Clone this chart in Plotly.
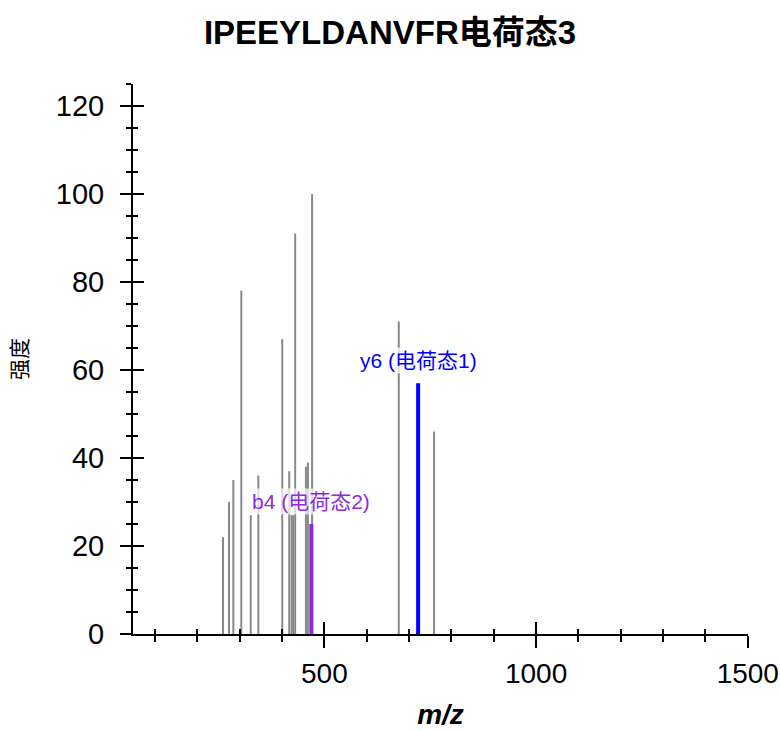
import plotly.graph_objects as go

# ---- data ----
gray_mz = [260.6, 274.8, 285.0, 303.8, 326.0, 344.0, 400.5, 417.0, 422.6, 426.4,
           431.0, 456.4, 461.0, 471.0, 675.7, 759.0]
gray_int = [22, 30, 35, 78, 27, 36, 67, 37, 27, 27,
            91, 38, 39, 100, 71, 46]

ion_labels = ["b4 (电荷态2)", "y6 (电荷态1)"]
ion_mz = [469.2, 721.4]
ion_int = [25, 57]
ion_colors = ["#8A2BE2", "#0000FF"]

title_text = "IPEEYLDANVFR电荷态3"
x_title = "<i>m/z</i>"
y_title = "强度"

x_range = [48, 1500.5]
y_range = [0, 125]

x_major = [500, 1000, 1500]
x_major_text = ["500", "1000", "1500"]
x_minor = [100, 200, 300, 400, 600, 700, 800, 900, 1100, 1200, 1300, 1400]

FONT = "Liberation Sans, Arial, Noto Sans CJK SC, sans-serif"


def sticks(mz, inten):
    xs, ys = [], []
    for m, h in zip(mz, inten):
        xs += [m, m, None]
        ys += [0, h, None]
    return xs, ys


fig = go.Figure()

gx, gy = sticks(gray_mz, gray_int)
fig.add_trace(go.Scatter(x=gx, y=gy, mode="lines",
                         line=dict(color="#888888", width=2),
                         hoverinfo="skip", showlegend=False))

for lab, m, h, c in zip(ion_labels, ion_mz, ion_int, ion_colors):
    sx, sy = sticks([m], [h])
    fig.add_trace(go.Scatter(x=sx, y=sy, mode="lines",
                             line=dict(color=c, width=4),
                             hoverinfo="skip", showlegend=False))
    fig.add_annotation(x=m, y=h, text=lab, showarrow=False,
                       xanchor="center", yanchor="bottom", yshift=9,
                       font=dict(family=FONT, size=21, color=c),
                       bgcolor="rgba(255,255,255,0.7)", borderpad=1)

# dummy trace for overlay axes
fig.add_trace(go.Scatter(x=[None], y=[None], xaxis="x2", yaxis="y2",
                         showlegend=False, hoverinfo="skip"))

common = dict(showgrid=False, zeroline=False, tickcolor="black",
              tickwidth=2)

fig.update_layout(
    width=780, height=730,
    margin=dict(l=133, r=32, t=84, b=96),
    paper_bgcolor="white", plot_bgcolor="white",
    font=dict(family=FONT, color="black"),
    title=dict(text="<b>" + title_text + "</b>", x=0.5, xref="container",
               y=1 - 32 / 730, yref="container", yanchor="middle",
               xanchor="center", font=dict(size=33, family=FONT)),
    xaxis=dict(range=x_range, showline=True, linecolor="black", linewidth=2,
               ticks="outside", ticklen=12, tickvals=x_major,
               ticktext=x_major_text,
               minor=dict(tickvals=x_minor,
                          ticks="outside", ticklen=6, tickwidth=2,
                          tickcolor="black"),
               tickfont=dict(size=28), ticklabelstandoff=1,
               title=dict(text="<b>" + x_title + "</b>", font=dict(size=28),
                          standoff=29),
               automargin=False, **common),
    xaxis2=dict(range=x_range, overlaying="x", anchor="y", side="bottom",
                showline=False, ticks="inside", ticklen=12,
                tickvals=x_major, showticklabels=False,
                minor=dict(tickvals=x_minor,
                           ticks="inside", ticklen=5, tickwidth=2,
                           tickcolor="black"),
                automargin=False, **common),
    yaxis=dict(range=y_range, showline=True, linecolor="black", linewidth=2,
               ticks="outside", ticklen=11, dtick=20, tick0=0,
               minor=dict(dtick=5, ticks="outside", ticklen=5, tickwidth=2,
                          tickcolor="black"),
               tickfont=dict(size=29), ticklabelstandoff=10,
               title=dict(text=y_title, font=dict(size=21), standoff=22),
               automargin=True, **common),
    yaxis2=dict(range=y_range, overlaying="y", anchor="x", side="left",
                showline=False, ticks="inside", ticklen=11, dtick=20, tick0=0,
                showticklabels=False,
                minor=dict(dtick=5, ticks="inside", ticklen=5, tickwidth=2,
                           tickcolor="black"),
                automargin=False, **common),
)

fig.write_html("out.html")
